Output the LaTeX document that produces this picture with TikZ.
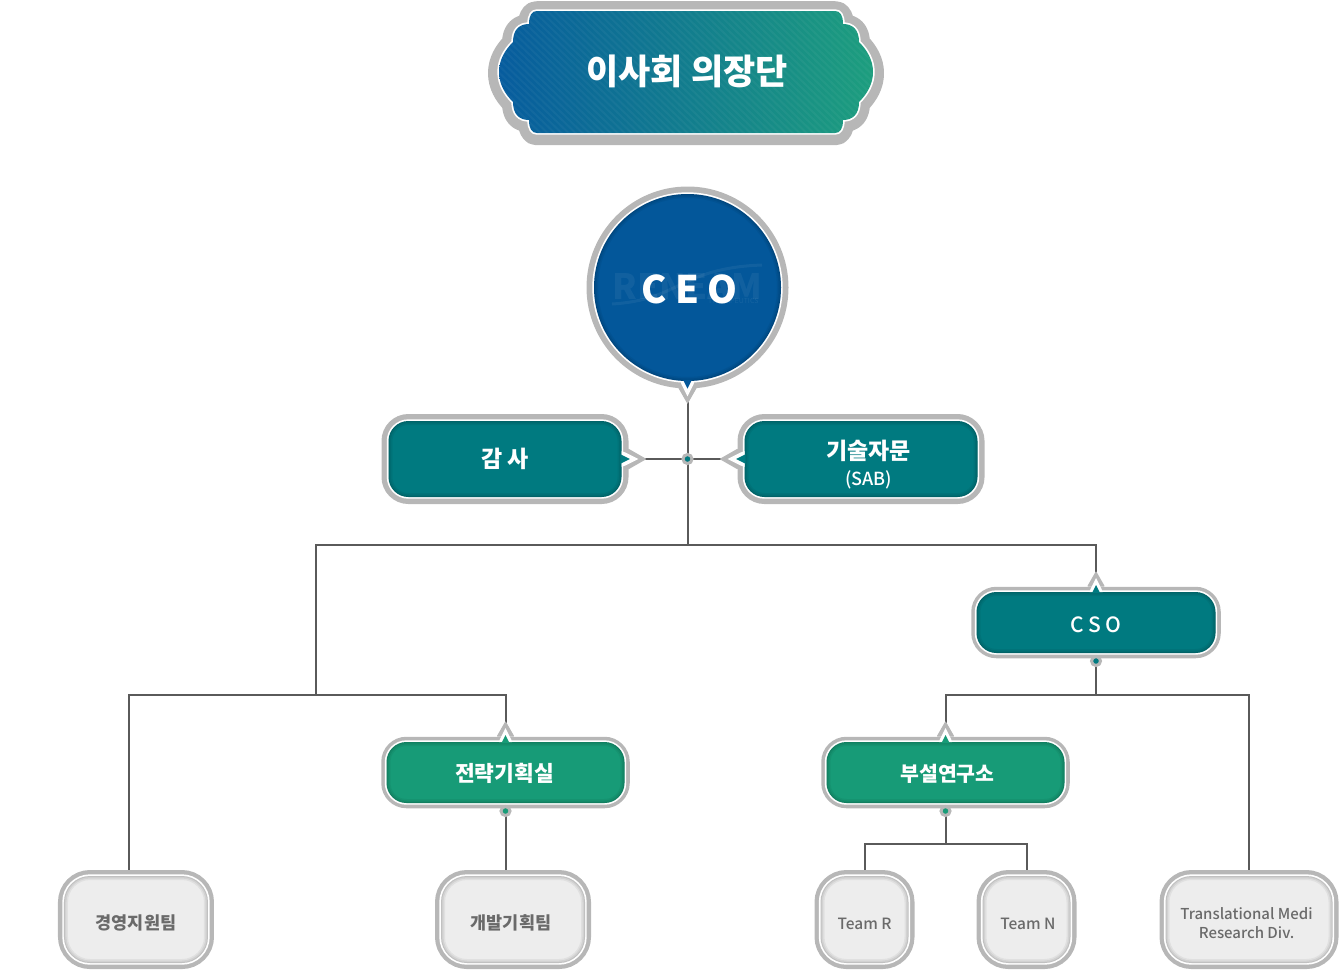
\documentclass[tikz,border=0pt]{standalone}
\usepackage{fontspec}
\setmainfont{Noto Sans CJK KR}
\newfontfamily\medfont{Noto Sans CJK KR Medium}
\usetikzlibrary{positioning, backgrounds, calc}
\definecolor{bgBlue}{HTML}{03579A}
\definecolor{bgTeal}{HTML}{007A80}
\definecolor{bgGreen}{HTML}{179B77}
\definecolor{bgGray}{HTML}{EDEDED}
\definecolor{bgPlateL}{HTML}{075C9E}
\definecolor{bgPlateR}{HTML}{1D9E7E}
\definecolor{borderGray}{HTML}{B7B7B7}
\definecolor{lineColor}{HTML}{5A5A5A}
\definecolor{textGray}{HTML}{6A6A6A}
\tikzset{
  inrim/.style={path picture={
    \foreach \w/\a in {8/0.05, 5/0.06, 2/0.08}
      \draw[black, draw opacity=\a, line width=\w bp, rounded corners=#1bp]
        (path picture bounding box.south west) rectangle (path picture bounding box.north east);}},
  framed/.style={preaction={draw=borderGray, line width=#1bp},
    preaction={draw=white, line width=3.4bp}},
  textbase/.style={text height=#1bp, text depth=0bp},
  colorbox/.style={inrim=20, rounded corners=20bp, inner sep=0pt, outer sep=0pt,
    minimum height=61bp, text=white, align=center},
  teambox/.style={framed=12, inrim=26, rounded corners=26bp, fill=bgGray, inner sep=0pt, outer sep=0pt,
    minimum height=87bp, text=textGray, align=center, textbase=19.3},
  hubdot/.style={circle, draw=borderGray, line width=3bp, minimum size=9bp, inner sep=0pt, outer sep=0pt},
  orgline/.style={draw=lineColor, line width=2bp},
  pics/boxtip/.style={code={
    \fill[borderGray, draw=borderGray, line width=1bp, line join=round] (-8,-6) -- (0,-20) -- (8,-6) -- cycle;
    \fill[white] (-6.5,0) -- (-5.5,-3) -- (0,-14) -- (5.5,-3) -- (6.5,0) -- cycle;
    \fill[#1] (-4,1) -- (0,-7) -- (4,1) -- cycle;}},
}
\newcommand{\fsz}[1]{\fontsize{#1bp}{#1bp}\selectfont}
\begin{document}
\begin{tikzpicture}[x=1bp, y=-1bp]
  \useasboundingbox (0,0) rectangle (1341,970);

  % === Top plate ===
  \def\platepath{(537,11) -- (835,11) .. controls (840,11) and (843,15) .. (843,24)
    .. controls (853,24) and (859,30) .. (859,42) .. controls (867,50) and (873,60) .. (873,72)
    .. controls (873,84) and (867,94) .. (859,102) .. controls (859,114) and (853,120) .. (843,120)
    .. controls (843,129) and (840,133) .. (835,133) -- (537,133)
    .. controls (532,133) and (529,129) .. (529,120) .. controls (519,120) and (513,114) .. (513,102)
    .. controls (505,94) and (499,84) .. (499,72) .. controls (499,60) and (505,50) .. (513,42)
    .. controls (513,30) and (519,24) .. (529,24) .. controls (529,15) and (532,11) .. (537,11) -- cycle}
  \draw[borderGray, line width=22bp, line join=round, yshift=-1.2bp] \platepath;
  \draw[white, line width=3.4bp, line join=round] \platepath;
  \shade[left color=bgPlateL, right color=bgPlateR] \platepath;
  \begin{scope}
    \clip \platepath;
    \foreach \i in {-25,...,65}
      \draw[white, draw opacity=0.04, line width=2bp] (480+\i*7,0) -- (630+\i*7,145);
  \end{scope}
  \node[font=\bfseries\fsz{35}, text=white] (board) at (687,71) {이사회 의장단};

  % === CEO and its two advisers ===
  \node[circle, fill=bgBlue, framed=15, inner sep=0pt, outer sep=0pt, minimum size=187bp,
    path picture={\foreach \w/\a in {8/0.05, 5/0.06, 2/0.08}
      \draw[black, draw opacity=\a, line width=\w bp] (path picture bounding box.center) circle (93.5);}]
    (ceo) at (687.5,287.5) {};
  \draw[white, draw opacity=0.06, line width=3bp] (612,304) .. controls (680,300) and (680,268) .. (762,265);
  \node[text=white, text opacity=0.06, font=\bfseries\fsz{35}] (logo) at (687,286) {RENEAM};
  \node[text=white, text opacity=0.08, font=\fsz{7}, anchor=east] (logosub) at (762,301) {THERAPEUTICS};
  \node[text=white, font=\bfseries\fsz{38}] (ceotext) at ([xshift=2bp, yshift=-1.5bp]ceo.center) {C E O};
  \node[hubdot, fill=bgTeal, below=73.5bp of ceo] (hubA) {};
  \node[colorbox, fill=bgTeal, framed=14, minimum width=233bp, minimum height=76bp, left=61.5bp of hubA,
    font=\bfseries\fsz{23}] (audit) {감 사};
  \node[colorbox, fill=bgTeal, framed=14, minimum width=233bp, minimum height=76bp, right=52.5bp of hubA] (sab) {};
  \node[text=white, align=center, font=\bfseries\fsz{23}] (sabtext) at ([xshift=7.5bp, yshift=-6bp]sab.center)
    {기술자문\\[3bp]{\medfont\mdseries\fsz{18}(SAB)}};

  % === Second level ===
  \node[colorbox, fill=bgTeal, framed=10.5, minimum width=239bp, below=95bp of sab, xshift=235bp,
    font=\medfont\fsz{21}, textbase=19.3] (cso) {C S O};
  \node[hubdot, fill=bgTeal, below=3.5bp of cso] (hubC) {};
  \node[colorbox, fill=bgGreen, framed=10.5, minimum width=238bp, below=76.5bp of hubC, xshift=-150.5bp,
    font=\bfseries\fsz{20.5}, textbase=17.6] (rnd) {\hspace*{4bp}부설연구소};
  \node[colorbox, fill=bgGreen, framed=10.5, minimum width=238bp, left=202bp of rnd,
    font=\bfseries\fsz{21.5}, textbase=18.4] (strat) {전략기획실\hspace*{2bp}};
  \node[hubdot, fill=bgGreen, below=3.5bp of strat] (hubS) {};
  \node[hubdot, fill=bgGreen, below=3.5bp of rnd] (hubR) {};

  % === Teams ===
  \node[teambox, minimum width=88bp, below=60.5bp of hubR, xshift=-81bp, font=\medfont\fsz{15.5}] (teamr) {Team R};
  \node[teambox, minimum width=88bp, right=74bp of teamr, font=\medfont\fsz{15.5}] (teamn) {\hspace*{3bp}Team N};
  \node[teambox, minimum width=167bp, right=95bp of teamn, font=\medfont\fsz{15}, textbase=37]
    (trans) {Translational Medi\hspace*{5bp}\\[4bp]Research Div.\hspace*{5bp}};
  \node[teambox, minimum width=144bp, below=60.5bp of hubS, xshift=7.5bp, font=\bfseries\fsz{17.5}] (dev) {개발기획팀\hspace*{4bp}};
  \node[teambox, minimum width=144bp, left=233bp of dev, font=\bfseries\fsz{17.5}] (mgmt) {경영지원팀};

  % Tips on the boxes
  \pic[rotate=180, scale=1.1] at (ceo.south) {boxtip=bgBlue};
  \pic[rotate=-90, scale=1.2] at (audit.east) {boxtip=bgTeal};
  \pic[rotate=90, scale=1.2] at (sab.west) {boxtip=bgTeal};
  \pic at (cso.north) {boxtip=bgTeal};
  \pic at (rnd.north) {boxtip=bgGreen};
  \pic at (strat.north) {boxtip=bgGreen};

  % Junctions of the lines
  \coordinate[below=81.5bp of hubA] (busTop);
  \coordinate (busMid) at (316,695);
  \coordinate[below=29.5bp of hubC] (busRight);
  \coordinate[below=28.5bp of hubR] (busTeam);

  % Connectors, behind the boxes
  \begin{scope}[on background layer]
    \draw[orgline] (ceo) -- (hubA);
    \draw[orgline] (audit) -- (sab);
    \draw[orgline] (hubA) -- (busTop);
    \draw[orgline] (busTop) -| (busMid);
    \draw[orgline] (busTop) -| (hubC);
    \draw[orgline] (busMid) -| (strat);
    \draw[orgline] (busMid) -| ([xshift=-7bp]mgmt.north);
    \draw[orgline] (hubS) -- (hubS |- dev.north);
    \draw[orgline] (hubC) -- (busRight);
    \draw[orgline] (busRight) -| (rnd);
    \draw[orgline] (busRight) -| (trans);
    \draw[orgline] (hubR) -- (busTeam);
    \draw[orgline] (busTeam) -| (teamr);
    \draw[orgline] (busTeam) -| (teamn);
  \end{scope}
\end{tikzpicture}
\end{document}
